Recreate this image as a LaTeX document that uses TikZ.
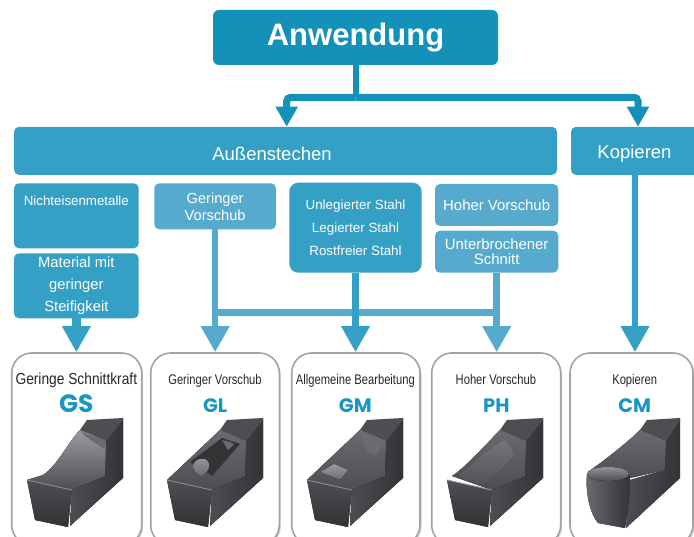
\documentclass[tikz,border=0pt]{standalone}
\usepackage{fontspec}
\setmainfont{Liberation Sans}
\newfontfamily\narrowfont[FakeStretch=0.8]{Liberation Sans}
\newfontfamily\narrowwidefont[FakeStretch=0.86]{Liberation Sans}
\newfontfamily\codefont{Poppins}
\usetikzlibrary{arrows.meta,shadows}

\definecolor{headteal}{HTML}{1391B8}
\definecolor{boxteal}{HTML}{35A0C6}
\definecolor{paleteal}{HTML}{55AACE}
\definecolor{codeblue}{HTML}{1A96C2}
\definecolor{cardedge}{HTML}{A3A3A3}
\definecolor{titleink}{HTML}{262626}
\definecolor{steelA}{HTML}{343437}
\definecolor{steelB}{HTML}{4D4D52}
\definecolor{steelC}{HTML}{6A6A70}
\definecolor{steelD}{HTML}{9A9AA0}

\tikzset{
  box/.style={fill=boxteal, rounded corners=5pt, inner sep=0pt, text=white, align=center},
  palebox/.style={box, fill=paleteal},
  boxlabel/.style={text=white, align=center, inner sep=0pt},
  card/.style={draw=cardedge, line width=1.6pt, fill=white, rounded corners=20pt, inner sep=0pt,
    drop shadow={opacity=0.3, shadow xshift=1.5pt, shadow yshift=-1.5pt, fill=black!60}},
  headlink/.style={draw=headteal, line width=7pt},
  link/.style={draw=boxteal, line width=6.5pt},
  palelink/.style={draw=paleteal, line width=6.5pt},
  bigtip/.style={-{Triangle[width=27pt,length=26pt]}},
  headtip/.style={-{Triangle[width=21pt,length=20pt]}},
  cardtitle/.style={text=titleink, inner sep=0pt, anchor=base, font=\narrowfont\fontsize{14}{14}\selectfont},
  cardcode/.style={text=codeblue, inner sep=0pt, anchor=base, font=\codefont\bfseries\fontsize{19.5}{19.5}\selectfont},
  % common body of a grooving insert, local units in px, y pointing down
  insertbase/.pic={
    \fill[left color=steelB, right color=steelA] (62,80) -- (95,66) -- (96,31) -- (113,9) -- (113,68) -- (60,116) -- cycle;
    \fill[top color=steelB, bottom color=steelA] (17,70) -- (62,80) -- (58,117) -- (25,110) -- cycle;
    \fill[steelB] (70,20) -- (77,10) -- (113,8) -- (113,10) -- (96,31) -- (87,27) -- cycle;
    \draw[steelD, line width=0.6pt] (17,70) -- (62,80);
  },
}

\begin{document}
\begin{tikzpicture}[x=1pt, y=-1pt]
\useasboundingbox (0,0) rectangle (694,537);
\clip (0,0) rectangle (694,537);

% ---- top level
\node[box, fill=headteal, rounded corners=6pt, minimum width=285pt, minimum height=55pt,
      font=\bfseries\fontsize{31}{31}\selectfont] (anw) at (355.5,37.5) {Anwendung};

\node[box, minimum width=543pt, minimum height=48pt] (aus) at (285.5,150.85) {};
\node[boxlabel, font=\fontsize{18.5}{18.5}\selectfont] (auslabel) at (272,154) {Außenstechen};
\node[box, minimum width=128pt, minimum height=48pt] (kop) at (635,150.85) {};
\node[boxlabel, font=\fontsize{18.5}{18.5}\selectfont] (koplabel) at (634.5,154) {Kopieren};

% ---- second level
\node[box, minimum width=124.7pt, minimum height=65pt] (nich) at (76.35,215.8) {};
\node[boxlabel, font=\fontsize{13.3}{13.3}\selectfont] (nichlabel) at (76.35,200.5) {Nichteisenmetalle};
\node[box, minimum width=124.7pt, minimum height=65pt, font=\fontsize{14.8}{22}\selectfont] (mat) at (76.35,285.8) {Material mit\\geringer\\Steifigkeit};
\node[palebox, minimum width=121.7pt, minimum height=46pt, font=\fontsize{14.6}{17}\selectfont] (gv) at (215.15,206.3) {Geringer\\Vorschub};
\node[box, rounded corners=9pt, minimum width=132.4pt, minimum height=90pt, font=\fontsize{13.4}{23}\selectfont] (unl) at (355.5,227.7) {Unlegierter Stahl\\Legierter Stahl\\Rostfreier Stahl};
\node[palebox, minimum width=123.3pt, minimum height=42pt, font=\fontsize{14.9}{15}\selectfont] (hv) at (496.65,205) {Hoher Vorschub};
\node[palebox, minimum width=123.3pt, minimum height=42pt, font=\fontsize{14.9}{15}\selectfont] (ub) at (496.65,251.7) {Unterbrochener\\Schnitt};

% ---- cards
\node[card, minimum width=130pt, minimum height=192pt] (c1) at (76.7,449) {};
\node[card, minimum width=128.6pt, minimum height=192pt] (c2) at (215,449) {};
\node[card, minimum width=128.3pt, minimum height=192pt] (c3) at (355.85,449) {};
\node[card, minimum width=129pt, minimum height=192pt] (c4) at (496.2,449) {};
\node[card, minimum width=123pt, minimum height=192pt] (c5) at (631.5,449) {};

\node[cardtitle, font=\narrowwidefont\fontsize{16}{16}\selectfont] (t1) at (76.35,385) {Geringe Schnittkraft};
\node[cardtitle] (t2) at (215,385) {Geringer Vorschub};
\node[cardtitle] (t3) at (355.35,385) {Allgemeine Bearbeitung};
\node[cardtitle] (t4) at (495.85,385) {Hoher Vorschub};
\node[cardtitle] (t5) at (634.7,385) {Kopieren};

\node[cardcode, font=\codefont\bfseries\fontsize{25}{25}\selectfont] (k1) at (76.3,413) {GS};
\node[cardcode] (k2) at (215.2,413) {GL};
\node[cardcode] (k3) at (355.3,413) {GM};
\node[cardcode] (k4) at (496.3,413) {PH};
\node[cardcode] (k5) at (634.7,413) {CM};

% ---- inserts
% GS: wide concave rake face
\pic at (10,410) {insertbase};
\begin{scope}[shift={(10,410)}]
  \fill[top color=steelD, bottom color=steelB] (17,70) -- (33,65) .. controls (48,55) and (58,32) .. (70,20)
     -- (87,27) -- (96,31) -- (95,66) -- (62,80) -- cycle;
  \fill[steelC] (70,20) .. controls (76,24) and (82,26) .. (87,27) -- (96,31) -- (95,40) .. controls (88,34) and (78,30) .. (70,20) -- cycle;
  \draw[steelD, line width=0.6pt] (17,70) -- (62,80);
\end{scope}
% GL: narrow rake with a small chip breaker bump
\pic at (150,410) {insertbase};
\begin{scope}[shift={(150,410)}]
  \fill[top color=steelC, bottom color=steelB] (17,70) -- (70,20) -- (87,27) -- (96,31) -- (95,66) -- (62,80) -- cycle;
  \fill[steelA] (40,52) -- (72,28) -- (90,34) -- (62,66) -- cycle;
  \fill[top color=steelD, bottom color=steelC] (44,60) .. controls (40,52) and (50,46) .. (57,50) .. controls (62,54) and (58,64) .. (52,66) .. controls (48,66) and (46,63) .. (44,60) -- cycle;
  \fill[steelC] (72,30) -- (78,40) -- (84,34) -- (80,32) -- cycle;
  \draw[steelD, line width=0.6pt] (17,70) -- (62,80);
\end{scope}
% GM: rake with a central pocket
\pic at (290,410) {insertbase};
\begin{scope}[shift={(290,410)}]
  \fill[top color=steelC, bottom color=steelB] (17,70) -- (70,20) -- (87,27) -- (96,31) -- (95,66) -- (62,80) -- cycle;
  \fill[steelC] (70,20) -- (87,27) -- (96,31) -- (86,45) -- (76,42) -- cycle;
  \fill[top color=steelD, bottom color=steelC] (30,62) -- (44,54) -- (58,60) -- (50,70) -- cycle;
  \draw[steelD, line width=0.6pt] (17,70) -- (62,80);
\end{scope}
% PH: broad rounded groove
\pic at (430,410) {insertbase};
\begin{scope}[shift={(430,410)}]
  \fill[top color=steelC, bottom color=steelB] (22,66) .. controls (35,58) and (60,30) .. (70,20)
     -- (87,27) -- (96,31) -- (95,66) -- (62,80) -- cycle;
  \fill[top color=steelD, bottom color=steelC, opacity=0.7] (28,66) .. controls (40,56) and (58,38) .. (74,30)
     .. controls (80,34) and (84,40) .. (84,46) .. controls (72,58) and (62,70) .. (56,76) .. controls (46,74) and (36,70) .. (28,66) -- cycle;
  \draw[steelD, line width=0.6pt] (17,70) -- (62,80);
\end{scope}
% CM: full-radius front
\begin{scope}[shift={(570,410)}]
  \fill[left color=steelB, right color=steelA] (60,70) -- (95,60) -- (96,31) -- (110,9) -- (110,68) -- (56,118) -- cycle;
  \fill[steelB] (70,20) -- (77,10) -- (110,8) -- (110,10) -- (96,31) -- (87,27) -- cycle;
  \fill[top color=steelC, bottom color=steelB] (18,62) .. controls (35,50) and (58,32) .. (70,20) -- (87,27) -- (96,31) -- (95,60) -- (60,68) -- cycle;
  \fill[left color=steelC, right color=steelA] (17,64) .. controls (15,85) and (21,105) .. (28,113)
     -- (55,118) .. controls (58,100) and (60,82) .. (60,66) -- cycle;
  \fill[top color=steelD!80!steelC, bottom color=steelB] (38,64) ellipse [x radius=21, y radius=7];
\end{scope}

% ---- connectors from the top
\coordinate (split) at (355.5,97.3);
\coordinate (ausin) at (286.7,126.7);
\coordinate (kopin) at (638,126.7);
\draw[headlink, line width=6pt] (anw.south) -- (split);
\draw[headlink, rounded corners=4pt, headtip] (split) -| (ausin);
\draw[headlink, rounded corners=4pt, headtip] (split) -| (kopin);

% ---- connectors to the cards
\coordinate (barL) at (215.15,313);
\coordinate (barR) at (496.65,313);
\draw[palelink, line width=7pt] (barL) -- (barR);
\draw[link, bigtip, line width=9pt] (mat.south) -- (mat.south |- c1.north);
\draw[palelink, bigtip] (gv.south) -- (gv.south |- c2.north);
\draw[link, bigtip] (unl.south) -- (unl.south |- c3.north);
\draw[palelink, bigtip] (ub.south) -- (ub.south |- c4.north);
\draw[link, bigtip] (kop.south) -- (kop.south |- c5.north);
\end{tikzpicture}
\end{document}
